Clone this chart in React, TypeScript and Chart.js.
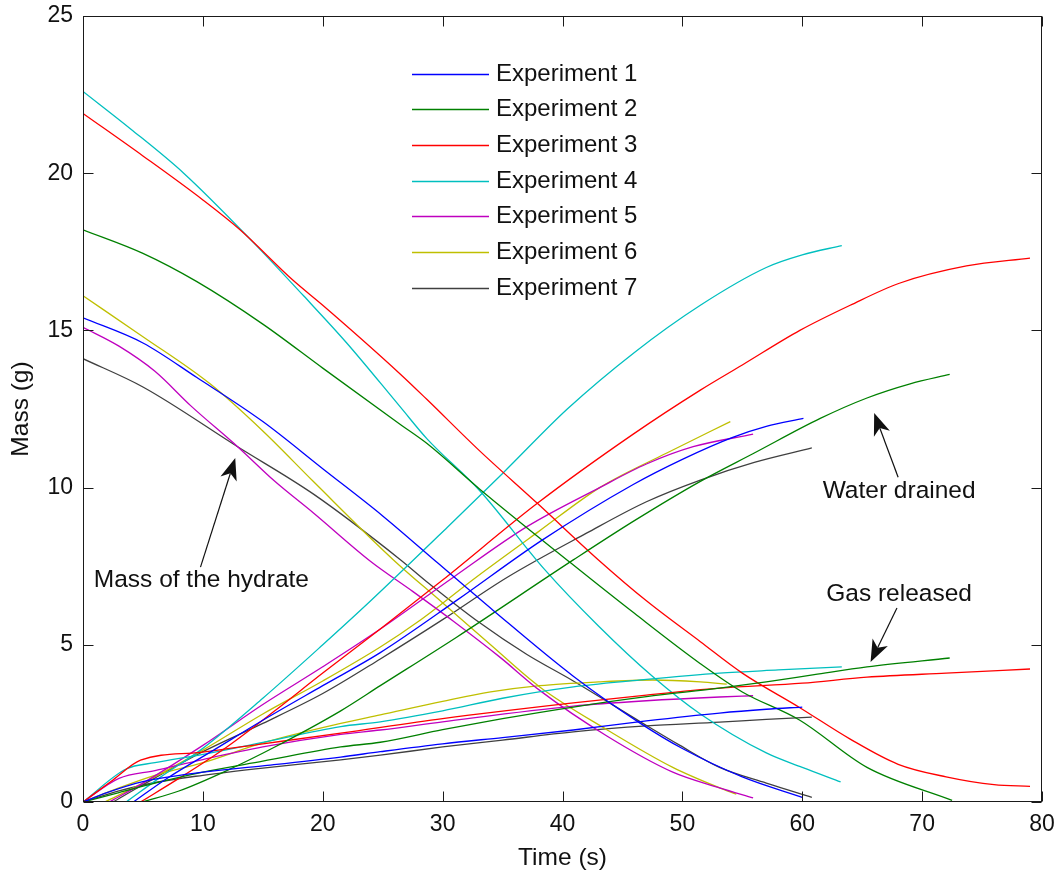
import React, { useEffect, useRef } from 'react';
import { Chart, registerables } from 'chart.js';

Chart.register(...registerables);

const FONT = "'Liberation Sans', Arial, sans-serif";

const experiments = ['Experiment 1', 'Experiment 2', 'Experiment 3', 'Experiment 4', 'Experiment 5', 'Experiment 6', 'Experiment 7'];
const colors = ['#0000ff', '#008000', '#ff0000', '#00bfbf', '#bf00bf', '#bfbf00', '#404040'];

const xTickValues = [0, 10, 20, 30, 40, 50, 60, 70, 80];
const yTickValues = [0, 5, 10, 15, 20, 25];

// Mass of the hydrate (g) vs time (s)
const exp1Hydrate = [[0, 15.4], [5, 14.6], [9.5, 13.5], [15, 12.1], [20, 10.6], [25, 9.1], [29.6, 7.6], [34.2, 6.1], [40.9, 4.0], [46.5, 2.5], [50, 1.7], [55, 0.8], [60, 0.15]];
const exp2Hydrate = [[0, 18.2], [5, 17.45], [9.5, 16.55], [15, 15.2], [20, 13.8], [26.5, 12.0], [28.7, 11.4], [33.1, 9.95], [40.7, 7.6], [46, 6.0], [51.5, 4.4], [55, 3.5], [59.8, 2.6], [65.4, 1.1], [72.5, 0.05]];
const exp3Hydrate = [[0, 21.9], [5, 20.55], [10, 19.15], [13.1, 18.2], [17.5, 16.6], [20, 15.8], [26.5, 13.6], [28.7, 12.8], [33, 11.2], [37.9, 9.5], [43, 7.7], [47, 6.4], [51.5, 5.1], [55, 4.1], [59.8, 3.0], [64, 2.0], [68, 1.2], [72, 0.8], [76, 0.55], [79, 0.5]];
const exp4Hydrate = [[0, 22.6], [4, 21.4], [8.4, 20.0], [14.2, 17.8], [18.4, 16.1], [22, 14.6], [26.5, 12.55], [28.7, 11.55], [33.1, 9.9], [38.5, 7.4], [43, 5.6], [47.5, 4.0], [51.5, 2.8], [57, 1.56], [60, 1.1], [63.2, 0.64]];
const exp5Hydrate = [[0, 15.1], [3, 14.5], [6, 13.7], [9, 12.6], [12.9, 11.3], [16, 10.2], [19.2, 9.2], [24, 7.65], [27.5, 6.7], [30.9, 5.75], [34.8, 4.6], [38.1, 3.55], [43.7, 2.1], [49.2, 0.95], [53.1, 0.45], [55.9, 0.13]];
const exp6Hydrate = [[0, 16.1], [5, 14.8], [10.6, 13.3], [15, 11.8], [19.2, 10.2], [25.9, 7.7], [29.8, 6.4], [34, 5.0], [38.1, 3.66], [43.7, 2.3], [49.2, 1.1], [53.1, 0.45], [54.5, 0.25]];
const exp7Hydrate = [[0, 14.1], [5, 13.2], [12.9, 11.3], [19.2, 9.8], [26.5, 7.7], [28.7, 7.0], [33.1, 5.7], [37, 4.7], [40.9, 3.85], [46.5, 2.55], [49.8, 1.8], [53.1, 1.1], [57, 0.6], [60.8, 0.15]];

// Water drained (g) vs time (s)
const exp1Water = [[4.2, 0], [7, 0.75], [10.9, 1.65], [15, 2.6], [20, 3.7], [24.8, 4.75], [31.2, 6.42], [38.3, 8.33], [45.9, 10.1], [50, 10.9], [54.2, 11.6], [57, 11.95], [60.1, 12.2]];
const exp2Water = [[5, 0], [8, 0.35], [12, 1.0], [16, 1.75], [21.5, 2.9], [24.8, 3.7], [31.2, 5.25], [40.9, 7.7], [46, 8.95], [51.5, 10.2], [56, 11.1], [61.5, 12.2], [65.4, 12.85], [69, 13.3], [72.3, 13.6]];
const exp3Water = [[4.8, 0], [8, 0.75], [12, 1.75], [16, 2.9], [20, 4.1], [24.8, 5.5], [30, 7.06], [37.9, 9.5], [45.9, 11.7], [51.5, 13.1], [55, 13.9], [59.8, 15.0], [64, 15.8], [68.1, 16.5], [73.7, 17.05], [79, 17.3]];
const exp4Water = [[3.6, 0], [6.5, 0.8], [9.8, 1.65], [15, 3.3], [20, 5.0], [24, 6.4], [30.4, 8.74], [35, 10.45], [40.4, 12.5], [46, 14.3], [51.5, 15.8], [57, 17.0], [60, 17.4], [63.3, 17.7]];
const exp5Water = [[2.2, 0], [5, 0.6], [10, 1.8], [15, 3.1], [20, 4.3], [24.8, 5.5], [30.9, 7.15], [37, 8.75], [43.1, 10.0], [47, 10.75], [50.9, 11.3], [55.9, 11.7]];
const exp6Water = [[1.8, 0], [5, 0.6], [10, 1.65], [15, 2.8], [20, 3.85], [24.8, 4.93], [28, 5.75], [32.8, 7.15], [38, 8.6], [43.1, 10.0], [48.7, 11.1], [54, 12.1]];
const exp7Water = [[2.5, 0], [5, 0.55], [10, 1.6], [15, 2.5], [20, 3.45], [24.8, 4.55], [30, 5.8], [35.4, 7.15], [42, 8.55], [47, 9.55], [51.5, 10.24], [56, 10.8], [60.8, 11.26]];

// Gas released (g) vs time (s)
const exp1Gas = [[0, 0], [2, 0.3], [5, 0.65], [10, 0.95], [15, 1.15], [21.5, 1.43], [24.8, 1.6], [30, 1.85], [35, 2.05], [40.9, 2.29], [47, 2.58], [53.1, 2.83], [57, 2.95], [60, 3.02]];
const exp2Gas = [[0, 0], [3, 0.3], [6, 0.6], [10, 0.95], [15, 1.3], [21.5, 1.75], [24.8, 1.9], [30, 2.3], [35, 2.65], [40.9, 3.02], [47, 3.35], [53.1, 3.62], [57, 3.82], [61, 4.05], [65.4, 4.3], [72.3, 4.58]];
const exp3Gas = [[0, 0], [2.5, 0.7], [4.8, 1.33], [9.8, 1.58], [15, 1.85], [21.5, 2.19], [30, 2.65], [40.9, 3.15], [47, 3.4], [53.1, 3.62], [60, 3.78], [65.4, 3.97], [72, 4.1], [79, 4.23]];
const exp4Gas = [[0, 0], [3.6, 1.05], [6, 1.25], [9.8, 1.5], [15, 1.9], [21.5, 2.4], [24.8, 2.55], [30, 2.9], [35, 3.3], [40.9, 3.66], [47, 3.9], [53.1, 4.1], [58, 4.2], [63.3, 4.3]];
const exp5Gas = [[0, 0], [3, 0.75], [6, 1.0], [10, 1.35], [15, 1.75], [21.5, 2.15], [24.8, 2.29], [30, 2.55], [40.9, 3.05], [47, 3.22], [53.1, 3.34], [55.9, 3.38]];
const exp6Gas = [[0, 0], [3, 0.45], [6, 0.85], [10, 1.25], [15, 1.88], [21.5, 2.5], [24.8, 2.77], [30, 3.2], [34, 3.5], [38.1, 3.7], [43, 3.82], [47.5, 3.88], [51.5, 3.82], [53.7, 3.75]];
const exp7Gas = [[0, 0], [3, 0.35], [6, 0.62], [10, 0.85], [15, 1.08], [21.5, 1.34], [24.8, 1.49], [30, 1.75], [35, 1.97], [40.9, 2.23], [47, 2.42], [53.1, 2.54], [57, 2.63], [60.8, 2.7]];

const hydrateSeries = [exp1Hydrate, exp2Hydrate, exp3Hydrate, exp4Hydrate, exp5Hydrate, exp6Hydrate, exp7Hydrate];
const waterSeries = [exp1Water, exp2Water, exp3Water, exp4Water, exp5Water, exp6Water, exp7Water];
const gasSeries = [exp1Gas, exp2Gas, exp3Gas, exp4Gas, exp5Gas, exp6Gas, exp7Gas];

// Annotations: text anchor and arrow (tail -> tip), in data units
const annotations = [
  { text: 'Mass of the hydrate', tx: 0.9, ty: 7.06, tail: [9.8, 7.47], tip: [12.7, 10.94] },
  { text: 'Water drained', tx: 61.7, ty: 9.89, tail: [68.0, 10.33], tip: [66.0, 12.37] },
  { text: 'Gas released', tx: 62.0, ty: 6.61, tail: [67.9, 6.17], tip: [65.7, 4.45] },
];

const framePlugin = {
  id: 'matlabFrame',
  afterDraw(chart: any) {
    const { ctx, chartArea: a, scales } = chart;
    const xs = scales.x;
    const ys = scales.y;
    ctx.save();
    ctx.strokeStyle = '#1a1a1a';
    ctx.lineWidth = 1;
    const L = Math.round(a.left) + 0.5;
    const R = Math.round(a.right) - 0.5;
    const T = Math.round(a.top) + 0.5;
    const B = Math.round(a.bottom) - 0.5;
    ctx.strokeRect(L, T, R - L, B - T);
    const tickLen = 10;
    ctx.beginPath();
    xTickValues.forEach((v) => {
      const px = Math.round(xs.getPixelForValue(v)) + 0.5;
      ctx.moveTo(px, B); ctx.lineTo(px, B - tickLen);
      ctx.moveTo(px, T); ctx.lineTo(px, T + tickLen);
    });
    yTickValues.forEach((v) => {
      const py = Math.round(ys.getPixelForValue(v)) + 0.5;
      ctx.moveTo(L, py); ctx.lineTo(L + tickLen, py);
      ctx.moveTo(R, py); ctx.lineTo(R - tickLen, py);
    });
    ctx.stroke();

    // legend (no box)
    const lx = a.left + 329;
    const ly = a.top + 57.5;
    const rowH = 35.7;
    ctx.font = `24px ${FONT}`;
    ctx.textBaseline = 'middle';
    ctx.textAlign = 'left';
    experiments.forEach((name, i) => {
      const y = Math.round(ly + i * rowH) + 0.5;
      ctx.strokeStyle = colors[i];
      ctx.lineWidth = 1.3;
      ctx.beginPath();
      ctx.moveTo(lx, y);
      ctx.lineTo(lx + 77, y);
      ctx.stroke();
      ctx.fillStyle = '#111';
      ctx.fillText(name, lx + 84, y);
    });

    // annotations
    annotations.forEach((an) => {
      const tx = xs.getPixelForValue(an.tx);
      const ty = ys.getPixelForValue(an.ty);
      ctx.fillStyle = '#111';
      ctx.font = `24.5px ${FONT}`;
      ctx.textBaseline = 'middle';
      ctx.textAlign = 'left';
      ctx.fillText(an.text, tx, ty);
      const x0 = xs.getPixelForValue(an.tail[0]);
      const y0 = ys.getPixelForValue(an.tail[1]);
      const x1 = xs.getPixelForValue(an.tip[0]);
      const y1 = ys.getPixelForValue(an.tip[1]);
      const ang = Math.atan2(y1 - y0, x1 - x0);
      const headL = 22;
      const headW = 8.5;
      const notch = 6;
      ctx.strokeStyle = '#111';
      ctx.lineWidth = 1.2;
      ctx.beginPath();
      ctx.moveTo(x0, y0);
      ctx.lineTo(x1 - Math.cos(ang) * (headL - notch), y1 - Math.sin(ang) * (headL - notch));
      ctx.stroke();
      const bx = x1 - Math.cos(ang) * headL;
      const by = y1 - Math.sin(ang) * headL;
      const nx = -Math.sin(ang);
      const ny = Math.cos(ang);
      ctx.beginPath();
      ctx.moveTo(x1, y1);
      ctx.lineTo(bx + nx * headW, by + ny * headW);
      ctx.lineTo(x1 - Math.cos(ang) * (headL - notch), y1 - Math.sin(ang) * (headL - notch));
      ctx.lineTo(bx - nx * headW, by - ny * headW);
      ctx.closePath();
      ctx.fill();
    });
    ctx.restore();
  },
};

export default function App() {
  const canvasRef = useRef<HTMLCanvasElement | null>(null);

  useEffect(() => {
    if (!canvasRef.current) return;
    const datasets: any[] = [];
    experiments.forEach((name, i) => {
      [hydrateSeries[i], waterSeries[i], gasSeries[i]].forEach((pts, k) => {
        datasets.push({
          label: k === 0 ? name : `${name} (${k === 1 ? 'water drained' : 'gas released'})`,
          data: pts.map(([x, y]) => ({ x, y })),
          borderColor: colors[i],
          backgroundColor: colors[i],
          borderWidth: 1.3,
          pointRadius: 0,
          fill: false,
          cubicInterpolationMode: 'monotone',
        });
      });
    });

    const chart = new Chart(canvasRef.current, {
      type: 'line',
      data: { datasets },
      options: {
        animation: false,
        responsive: false,
        devicePixelRatio: 1,
        layout: { padding: { top: 16, right: 16, left: 0, bottom: 0 } },
        plugins: {
          legend: { display: false },
          tooltip: { enabled: false },
        },
        scales: {
          x: {
            type: 'linear',
            min: 0,
            max: 80,
            ticks: {
              stepSize: 10,
              padding: 9,
              maxRotation: 0,
              color: '#111',
              font: { family: FONT, size: 23 },
            },
            grid: { display: false, drawTicks: false },
            border: { display: false },
            title: {
              display: true,
              text: 'Time (s)',
              color: '#111',
              padding: 0,
              font: { family: FONT, size: 24.5, lineHeight: 1.2 },
            },
            afterFit: (s: any) => {
              s.height = 71;
              s.paddingLeft = 0;
              s.paddingRight = 0;
            },
          },
          y: {
            type: 'linear',
            min: 0,
            max: 25,
            ticks: {
              stepSize: 5,
              padding: 10,
              color: '#111',
              font: { family: FONT, size: 23 },
            },
            grid: { display: false, drawTicks: false },
            border: { display: false },
            title: {
              display: true,
              text: 'Mass (g)',
              color: '#111',
              padding: { top: 7, bottom: 0 },
              font: { family: FONT, size: 24.5 },
            },
            afterFit: (s: any) => {
              s.width = 83;
              s.paddingTop = 0;
              s.paddingBottom = 0;
            },
          },
        },
      } as any,
      plugins: [framePlugin],
    });
    return () => chart.destroy();
  }, []);

  return (
    <div style={{ position: 'absolute', left: 0, top: 0, width: 1058, height: 873, background: '#fff' }}>
      <canvas ref={canvasRef} width={1058} height={873} style={{ display: 'block' }} />
    </div>
  );
}
